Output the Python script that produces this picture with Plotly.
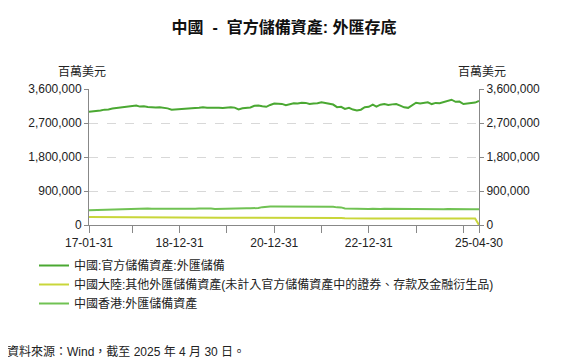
import pandas as pd
import plotly.graph_objects as go

dates = pd.date_range("2017-01-31", "2025-04-30", freq="ME").strftime("%Y-%m-%d").tolist()

china_fx = [
    2998, 3005, 3009, 3030, 3054, 3057, 3081, 3092, 3109, 3109, 3119, 3140,
    3161, 3134, 3143, 3125, 3111, 3112, 3118, 3110, 3087, 3053, 3062, 3073,
    3088, 3090, 3099, 3095, 3101, 3119, 3104, 3107, 3092, 3105, 3096, 3108,
    3115, 3107, 3061, 3091, 3102, 3112, 3154, 3165, 3143, 3128, 3178, 3217,
    3211, 3205, 3170, 3198, 3222, 3214, 3236, 3232, 3201, 3218, 3222, 3250,
    3222, 3214, 3188, 3120, 3128, 3071, 3104, 3055, 3029, 3052, 3117, 3128,
    3184, 3133, 3184, 3205, 3177, 3193, 3204, 3160, 3115, 3101, 3172, 3238,
    3219, 3226, 3246, 3201, 3232, 3222, 3256, 3288, 3316, 3261, 3266, 3202,
    3209, 3227, 3241, 3282,
]
china_fx = [v * 1000 for v in china_fx]

china_other = [
    212, 211, 211, 210, 210, 209, 209, 208, 208, 207, 207, 206,
    206, 205, 205, 204, 203, 202, 201, 200, 199, 198, 197, 196,
    196, 195, 195, 194, 194, 193, 193, 193, 192, 192, 192, 192,
    192, 192, 191, 191, 192, 192, 193, 194, 195, 196, 198, 200,
    201, 202, 202, 203, 203, 203, 203, 203, 202, 202, 201, 200,
    198, 196, 193, 189, 185, 181, 177, 174, 172, 171, 170, 170,
    170, 170, 170, 170, 170, 170, 170, 170, 170, 170, 170, 170,
    170, 170, 170, 170, 170, 170, 170, 170, 170, 170, 170, 170,
    170, 170, 170, 0,
]
china_other = [v * 1000 for v in china_other]

hk_fx = [
    391.6, 394.8, 397.5, 402.5, 407.7, 414.3, 421.0, 423.2, 426.6, 427.5, 430.5, 431.4,
    442.6, 440.0, 439.6, 436.9, 432.0, 431.3, 425.6, 424.0, 423.2, 421.6, 423.7, 424.8,
    425.4, 427.4, 429.0, 431.7, 436.9, 442.3, 436.1, 434.3, 426.3, 430.2, 430.1, 441.2,
    440.4, 445.1, 442.6, 440.5, 442.1, 440.8, 440.6, 452.5, 472.8, 486.0, 490.5, 491.7,
    492.3, 494.5, 493.2, 493.3, 495.8, 493.7, 494.7, 497.8, 495.6, 496.9, 496.6, 496.9,
    496.7, 493.0, 481.7, 466.8, 466.3, 439.8, 438.2, 428.6, 415.8, 417.0, 421.6, 424.0,
    430.6, 424.3, 425.4, 430.3, 428.8, 428.0, 424.7, 418.5, 413.9, 411.7, 420.7, 425.5,
    418.5, 415.2, 421.5, 410.8, 417.9, 416.0, 415.6, 424.5, 426.1, 421.6, 420.5, 421.4,
    421.7, 420.0, 414.0, 415.0,
]
hk_fx = [v * 1000 for v in hk_fx]

series_names = [
    "中國:官方儲備資產:外匯儲備",
    "中國大陸:其他外匯儲備資產(未計入官方儲備資產中的證券、存款及金融衍生品)",
    "中國香港:外匯儲備資產",
]
series_colors = ["#4aa832", "#c9d63a", "#70c253"]

tick_vals = ["2017-01-31", "2017-12-31", "2018-12-31", "2019-12-31", "2020-12-31",
             "2021-12-31", "2022-12-31", "2023-12-31", "2024-12-31", "2025-04-30"]
tick_text = ["17-01-31", "", "18-12-31", "", "20-12-31", "", "22-12-31", "", "", "25-04-30"]

y_ticks = [0, 900000, 1800000, 2700000, 3600000]

FONT = "Liberation Sans, Arial, Noto Sans CJK TC, sans-serif"

# page body has an 8px margin; work in reference pixels and shift
OFF = 8
W, H = 573 - OFF, 364 - OFF
pl, pr, pt, pb = 89 - OFF, 479 - OFF, 89 - OFF, 225 - OFF


def px(x):
    return (x - OFF - pl) / (pr - pl)


def py(y):
    return (pb - (y - OFF)) / (pb - pt)


fig = go.Figure()
for name, vals, col in zip(series_names, [china_fx, china_other, hk_fx], series_colors):
    fig.add_trace(go.Scatter(x=dates, y=vals, name=name, mode="lines",
                             line=dict(color=col, width=2)))
fig.add_trace(go.Scatter(x=dates[:1], y=[0], yaxis="y2", mode="lines",
                         line=dict(width=0), showlegend=False, hoverinfo="skip"))

axis_common = dict(range=[0, 3600000], tickvals=y_ticks, tickformat=",d",
                   showline=True, linecolor="#888", linewidth=1,
                   ticks="outside", ticklen=4, tickcolor="#888",
                   tickfont=dict(size=12, color="#222", family=FONT), zeroline=False)

fig.update_layout(
    width=W, height=H,
    paper_bgcolor="white", plot_bgcolor="white",
    margin=dict(l=pl, r=W - pr, t=pt, b=H - pb),
    font=dict(family=FONT, size=12, color="#222"),
    title=dict(text="<b>中國  -  官方儲備資產: 外匯存底</b>",
               x=0.5, xref="paper", y=1 - (27 - OFF) / H, yanchor="middle",
               font=dict(size=16, color="#111", family=FONT)),
    xaxis=dict(type="date", range=["2017-01-31", "2025-04-30"],
               tickvals=tick_vals, ticktext=tick_text,
               showline=True, linecolor="#888", linewidth=1,
               ticks="outside", ticklen=7, tickcolor="#888",
               showgrid=False, tickfont=dict(size=12, color="#222", family=FONT)),
    yaxis=dict(showgrid=True, gridcolor="#d8d8d8", griddash="dash", gridwidth=1, **axis_common),
    yaxis2=dict(overlaying="y", side="right", showgrid=False, **axis_common),
    showlegend=True,
    legend=dict(x=px(34), y=py(251), xanchor="left", yanchor="top",
                orientation="v", itemwidth=30, tracegroupgap=0,
                font=dict(size=12, color="#222", family=FONT),
                bgcolor="rgba(0,0,0,0)"),
)

fig.add_annotation(text="百萬美元", x=px(82), y=py(72), xref="paper", yref="paper",
                   showarrow=False, xanchor="center", yanchor="middle",
                   font=dict(size=12, color="#222", family=FONT))
fig.add_annotation(text="百萬美元", x=px(482), y=py(72), xref="paper", yref="paper",
                   showarrow=False, xanchor="center", yanchor="middle",
                   font=dict(size=12, color="#222", family=FONT))
fig.add_annotation(text="資料來源：Wind，截至 2025 年 4 月 30 日。", x=px(5), y=py(352),
                   xref="paper", yref="paper", showarrow=False, xanchor="left", yanchor="middle",
                   font=dict(size=12, color="#222", family=FONT))

fig.write_html("out.html")
